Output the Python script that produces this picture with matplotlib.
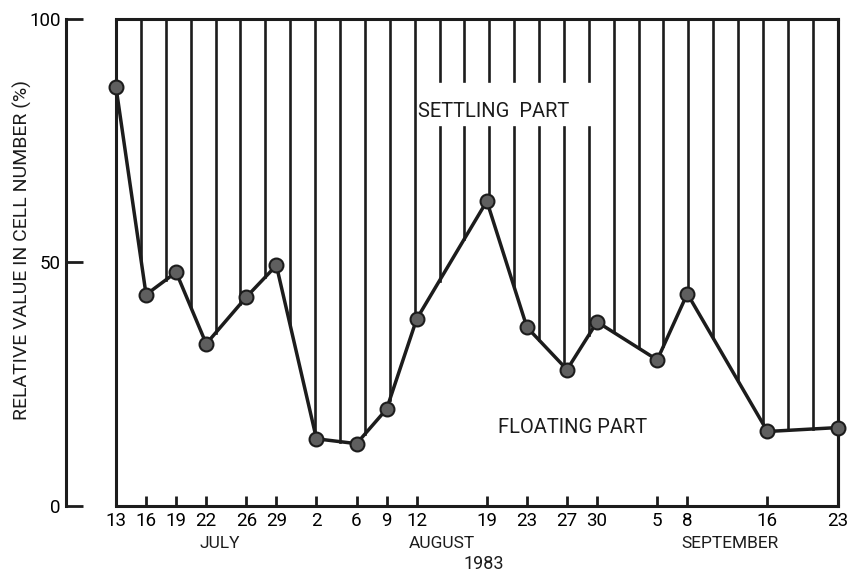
import matplotlib
matplotlib.use("Agg")
import matplotlib.pyplot as plt
import matplotlib.dates as mdates
import numpy as np

# sampling dates and floating fraction (%)
dates = ["1983-07-13", "1983-07-16", "1983-07-19", "1983-07-22", "1983-07-26",
         "1983-07-29", "1983-08-02", "1983-08-06", "1983-08-09", "1983-08-12",
         "1983-08-19", "1983-08-23", "1983-08-27", "1983-08-30", "1983-09-05",
         "1983-09-08", "1983-09-16", "1983-09-23"]
values = [86.0, 43.4, 48.0, 33.3, 42.9, 49.4, 13.8, 12.8, 19.9, 38.4,
          62.6, 36.7, 28.0, 37.8, 30.0, 43.6, 15.3, 16.1]
day_labels = ["13", "16", "19", "22", "26", "29", "2", "6", "9", "12",
              "19", "23", "27", "30", "5", "8", "16", "23"]
months = ["JULY", "AUGUST", "SEPTEMBER"]
year = "1983"
yticks = [0, 50, 100]

plt.rcParams['font.family'] = ['Roboto', 'DejaVu Sans']
ink = '#1c1c1c'

x = mdates.datestr2num(dates)

fig = plt.figure(figsize=(8.53, 5.75), dpi=100)
ax = fig.add_axes([0.136, 0.12, 0.846, 0.847])
ax.set_xlim(x[0], x[-1])
ax.set_ylim(0, 100)

# hatching for the settling part: evenly spaced lines from curve up to 100
hx = np.linspace(x[0], x[-1], 30)
hy = np.interp(hx, x, values)
gap_x = (x[0] + 30.0, x[0] + 47.8)
gap_y = (77.8, 87.2)
for xi, yi in zip(hx[1:-1], hy[1:-1]):
    if gap_x[0] <= xi <= gap_x[1]:
        ax.plot([xi, xi], [yi, gap_y[0]], color=ink, lw=1.9, zorder=2)
        ax.plot([xi, xi], [gap_y[1], 100], color=ink, lw=1.9, zorder=2)
    else:
        ax.plot([xi, xi], [yi, 100], color=ink, lw=1.9, zorder=2)

# box edges
ax.vlines([x[0], x[-1]], 0, 100, color=ink, lw=2.2, clip_on=False, zorder=2)

ax.plot(x, values, '-', color=ink, lw=2.5, marker='o', ms=10,
        mfc='#5f5f5f', mec=ink, mew=1.5, zorder=5, clip_on=False)

for s in ax.spines.values():
    s.set_linewidth(2.2)
    s.set_color(ink)
ax.spines['left'].set_position(('outward', 36))

ax.set_xticks(x, day_labels)
ax.tick_params(axis='x', direction='in', length=7, width=2, labelsize=13.5,
               pad=4, color=ink)
ax.set_yticks(yticks, [str(v) for v in yticks])
ax.tick_params(axis='y', direction='in', length=12, width=2, labelsize=13.5,
               pad=4, color=ink)

ax.text(0.5235, 0.809, "SETTLING  PART", transform=ax.transAxes,
        ha='center', va='center', fontsize=14.5, color=ink)
ax.text(0.633, 0.162, "FLOATING PART", transform=ax.transAxes,
        ha='center', va='center', fontsize=14.5, color=ink)

fig.text(220 / 853, 1 - 544 / 575, months[0], ha='center', va='center', fontsize=12.5, color=ink)
fig.text(442 / 853, 1 - 544 / 575, months[1], ha='center', va='center', fontsize=12.5, color=ink)
fig.text(730 / 853, 1 - 544 / 575, months[2], ha='center', va='center', fontsize=12.5, color=ink)
fig.text(484 / 853, 1 - 564 / 575, year, ha='center', va='center', fontsize=13, color=ink)

fig.text(22 / 853, 1 - 250 / 575, "RELATIVE VALUE IN CELL NUMBER (%)", rotation=90,
         ha='center', va='center', fontsize=14, color=ink)

fig.savefig("out.png", dpi=100)
